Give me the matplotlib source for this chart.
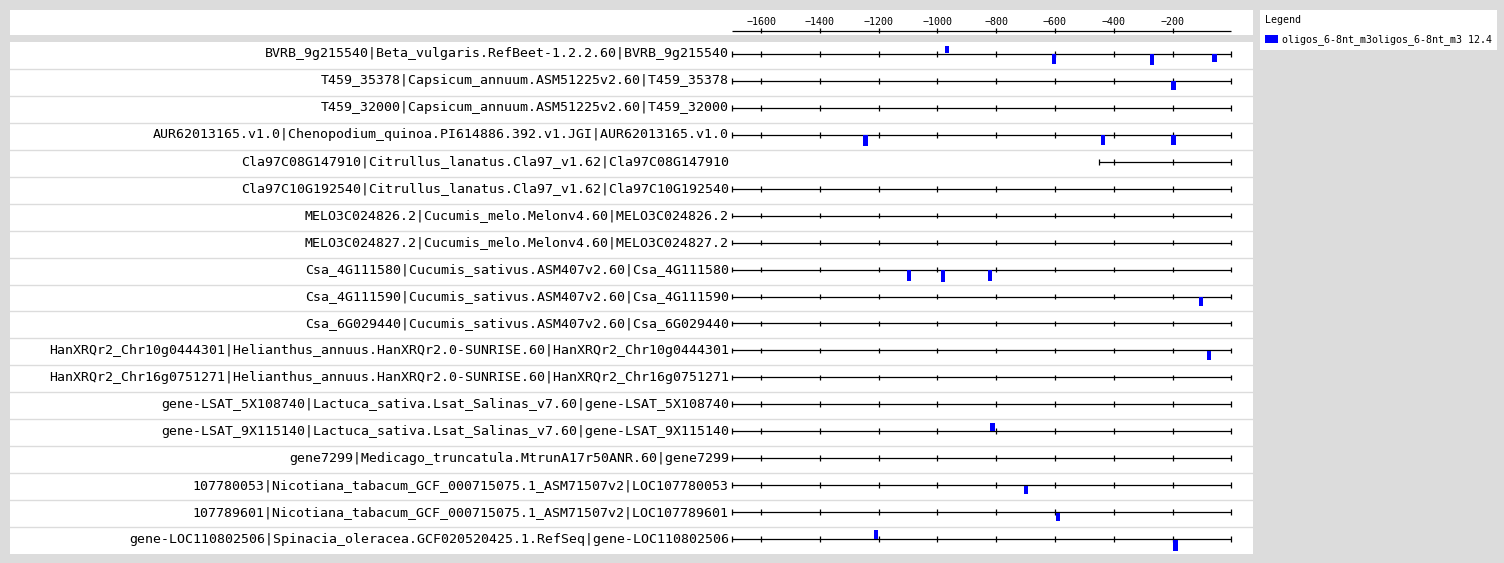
import matplotlib
matplotlib.use("Agg")
import matplotlib.pyplot as plt
from matplotlib.patches import Patch
from matplotlib.transforms import ScaledTranslation

# ---------------- data ----------------
genes = [
    "BVRB_9g215540|Beta_vulgaris.RefBeet-1.2.2.60|BVRB_9g215540",
    "T459_35378|Capsicum_annuum.ASM51225v2.60|T459_35378",
    "T459_32000|Capsicum_annuum.ASM51225v2.60|T459_32000",
    "AUR62013165.v1.0|Chenopodium_quinoa.PI614886.392.v1.JGI|AUR62013165.v1.0",
    "Cla97C08G147910|Citrullus_lanatus.Cla97_v1.62|Cla97C08G147910",
    "Cla97C10G192540|Citrullus_lanatus.Cla97_v1.62|Cla97C10G192540",
    "MELO3C024826.2|Cucumis_melo.Melonv4.60|MELO3C024826.2",
    "MELO3C024827.2|Cucumis_melo.Melonv4.60|MELO3C024827.2",
    "Csa_4G111580|Cucumis_sativus.ASM407v2.60|Csa_4G111580",
    "Csa_4G111590|Cucumis_sativus.ASM407v2.60|Csa_4G111590",
    "Csa_6G029440|Cucumis_sativus.ASM407v2.60|Csa_6G029440",
    "HanXRQr2_Chr10g0444301|Helianthus_annuus.HanXRQr2.0-SUNRISE.60|HanXRQr2_Chr10g0444301",
    "HanXRQr2_Chr16g0751271|Helianthus_annuus.HanXRQr2.0-SUNRISE.60|HanXRQr2_Chr16g0751271",
    "gene-LSAT_5X108740|Lactuca_sativa.Lsat_Salinas_v7.60|gene-LSAT_5X108740",
    "gene-LSAT_9X115140|Lactuca_sativa.Lsat_Salinas_v7.60|gene-LSAT_9X115140",
    "gene7299|Medicago_truncatula.MtrunA17r50ANR.60|gene7299",
    "107780053|Nicotiana_tabacum_GCF_000715075.1_ASM71507v2|LOC107780053",
    "107789601|Nicotiana_tabacum_GCF_000715075.1_ASM71507v2|LOC107789601",
    "gene-LOC110802506|Spinacia_oleracea.GCF020520425.1.RefSeq|gene-LOC110802506",
]
seq_start = [-1700, -1700, -1700, -1700, -450, -1700, -1700, -1700, -1700, -1700,
             -1700, -1700, -1700, -1700, -1700, -1700, -1700, -1700, -1700]
seq_end = 0
axis_min = -1700
axis_ticks = [-1600, -1400, -1200, -1000, -800, -600, -400, -200]

mark_row    = [0, 0, 0, 0, 1, 3, 3, 3, 8, 8, 8, 9, 11, 14, 16, 17, 18, 18]
mark_pos    = [-967, -604, -269, -57, -197, -1245, -438, -197, -1097, -981, -820,
               -103, -75, -813, -699, -591, -1208, -190]
mark_strand = [1, -1, -1, -1, -1, -1, -1, -1, -1, -1, -1, -1, -1, 1, -1, -1, 1, -1]
mark_score  = [7, 10, 11, 8, 9, 11, 10, 10, 11, 12, 11, 9, 9, 8, 8, 8, 9, 11]

legend_label = "oligos_6-8nt_m3oligos_6-8nt_m3 12.4"

# ---------------- layout ----------------
W, H = 1504, 563
BG = "#dcdcdc"
MONO = "DejaVu Sans Mono"
fig = plt.figure(figsize=(W / 100, H / 100), dpi=100, facecolor=BG)


def px_axes(x0, y0, x1, y1):
    return fig.add_axes([x0 / W, 1 - y1 / H, (x1 - x0) / W, (y1 - y0) / H])


def clean(a):
    a.set_facecolor("white")
    for s in a.spines.values():
        s.set_visible(False)
    a.set_xticks([])
    a.set_yticks([])


PANEL_L, PANEL_R = 10, 1253
TRACK_L, TRACK_R = 731.8, 1231.3
scale = (TRACK_R - TRACK_L) / (seq_end - axis_min)
xlim = (axis_min - (TRACK_L - PANEL_L) / scale, seq_end + (PANEL_R - TRACK_R) / scale)
mark_w = 4.2 / scale

# header ruler
axh = px_axes(PANEL_L, 10, PANEL_R, 35)
clean(axh)
axh.set_xlim(*xlim)
axh.set_ylim(25, 0)
axh.hlines(20.6, axis_min, seq_end, color="black", lw=0.9)
axh.vlines(axis_ticks, 18.4, 23.2, color="black", lw=0.9)
for t in axis_ticks:
    axh.text(t, 15.2, f"\u2212{abs(t)}", ha="center", va="baseline",
             fontsize=7.2, family=MONO)

# tracks panel
n = len(genes)
ax = px_axes(PANEL_L, 42, PANEL_R, 554)
clean(ax)
ax.set_xlim(*xlim)
ax.set_ylim(n - 0.5, -0.5)

row_px = 512 / n
off = -1.5 / row_px
tick_h = 2.8 / row_px

for i in range(1, n):
    ax.axhline(i - 0.5, color=BG, lw=1.0, zorder=1)

label_shift = ScaledTranslation(-3 / 100, 0, fig.dpi_scale_trans)
for i, g in enumerate(genes):
    y = i + off
    st = seq_start[i]
    ax.hlines(y, st, seq_end, color="black", lw=0.9, zorder=2)
    tks = [st] + [t for t in axis_ticks if t > st] + [seq_end]
    ax.vlines(tks, y - tick_h, y + tick_h, color="black", lw=0.9, zorder=2)
    ax.text(axis_min, y, g, ha="right", va="center", fontsize=9.55, family=MONO,
            transform=ax.transData + label_shift)

for r, p, s, sc in zip(mark_row, mark_pos, mark_strand, mark_score):
    y = r + off
    h = sc / row_px
    if s > 0:
        ax.bar(p, -h, bottom=y - 0.5 / row_px, width=mark_w, color="#0000ff", zorder=3)
    else:
        ax.bar(p, h, bottom=y + 0.5 / row_px, width=mark_w, color="#0000ff", zorder=3)

# legend
leg = fig.legend(handles=[Patch(facecolor="#0000ff", edgecolor="none", label=legend_label)],
                 title="Legend", loc="upper left",
                 bbox_to_anchor=(1260 / W, 1 - 10 / H), bbox_transform=fig.transFigure,
                 frameon=True, fancybox=False, facecolor="white", edgecolor="white",
                 framealpha=1, prop={"family": MONO, "size": 7.2},
                 title_fontproperties={"family": MONO, "size": 7.2},
                 alignment="left", handlelength=1.3, handleheight=0.75,
                 handletextpad=0.4, borderpad=0.5, borderaxespad=0, labelspacing=0.95)
leg.get_frame().set_linewidth(0)

fig.savefig("out.png", dpi=100, facecolor=BG)
